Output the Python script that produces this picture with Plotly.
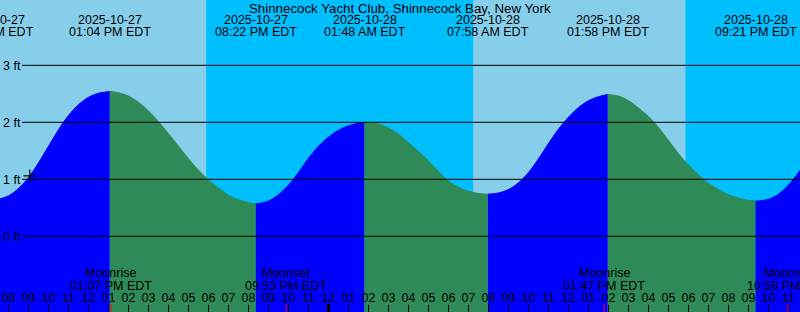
import plotly.graph_objects as go
from datetime import datetime, timedelta

TITLE = "Shinnecock Yacht Club, Shinnecock Bay, New York"
BASE = datetime(2025, 10, 27)

# water level samples: hours after 2025-10-27 00:00 EDT, feet
curve_hours = [7.5, 8.0, 8.5, 9.0, 9.5, 10.0, 10.5, 11.0, 11.5, 12.0, 12.5,
               13.5, 14.0, 14.5, 15.0, 15.5, 16.0, 16.5, 17.0, 17.5, 18.0, 18.5,
               19.0, 19.5, 20.0, 20.5, 21.0, 21.5, 22.0, 22.5, 23.0, 23.5, 24.0,
               24.5, 25.0, 25.5, 26.0, 26.5, 27.0, 27.5, 28.0, 28.5, 29.0, 29.5,
               30.0, 30.5, 31.0, 31.5, 32.5, 33.0, 33.5, 34.0, 34.5, 35.0,
               35.5, 36.0, 36.5, 37.0, 37.5, 38.5, 39.0, 39.5, 40.0, 40.5,
               41.0, 41.5, 42.0, 42.5, 43.0, 43.5, 44.0, 44.5, 45.0, 45.5, 46.0,
               46.5, 47.0, 47.5, 48.0]
curve_feet = [0.65, 0.71, 0.84, 1.03, 1.29, 1.58, 1.87, 2.12, 2.31, 2.44, 2.51,
              2.52, 2.46, 2.35, 2.20, 2.01, 1.80, 1.58, 1.36, 1.16, 0.99, 0.85,
              0.72, 0.64, 0.59, 0.575, 0.62, 0.73, 0.90, 1.12, 1.37, 1.58, 1.74,
              1.86, 1.94, 1.985, 1.995, 1.97, 1.90, 1.79, 1.64, 1.49, 1.32, 1.14,
              0.97, 0.86, 0.79, 0.75, 0.76, 0.82, 0.94, 1.12, 1.36, 1.63,
              1.88, 2.09, 2.26, 2.38, 2.45, 2.46, 2.38, 2.25, 2.10, 1.91,
              1.68, 1.45, 1.25, 1.08, 0.93, 0.82, 0.73, 0.67, 0.63, 0.62, 0.65,
              0.74, 0.90, 1.12, 1.38]

# tide events
tide_event_times = ["2025-10-27 07:13", "2025-10-27 13:04", "2025-10-27 20:22",
                    "2025-10-28 01:48", "2025-10-28 07:58", "2025-10-28 13:58",
                    "2025-10-28 21:21"]
tide_event_feet = [0.63, 2.54, 0.57, 2.00, 0.74, 2.49, 0.62]
tide_event_kind = ["low", "high", "low", "high", "low", "high", "low"]

# sun / moon
sunset_times = ["2025-10-27 17:53", "2025-10-28 17:51"]
sunrise_times = ["2025-10-28 07:14", "2025-10-29 07:15"]
moon_event_names = ["Moonrise", "Moonset", "Moonrise", "Moonset"]
moon_event_times = ["2025-10-27 13:07", "2025-10-27 21:53",
                    "2025-10-28 13:47", "2025-10-28 22:58"]

now_time = "2025-10-27 09:04"
now_feet = 1.06

level_ticks = [0, 1, 2, 3]
level_labels = ["0 ft", "1 ft", "2 ft", "3 ft"]

first_hour_tick = "2025-10-27 08:00"
hour_tick_count = 40

view_start = "2025-10-27 07:34:30"
view_end = "2025-10-28 23:34:30"

FONT = "Liberation Sans, Arial, sans-serif"
FS = 12.5
W, H = 800, 312
Y_MIN, Y_MAX = -1.328, 4.146

def parse(s):
    fmt = "%Y-%m-%d %H:%M:%S" if s.count(":") == 2 else "%Y-%m-%d %H:%M"
    return datetime.strptime(s, fmt)

T0, T1 = parse(view_start), parse(view_end)

def px_frac(d):
    # fraction of the time range, so labels past the edges can still be partly drawn
    return (d - T0) / (T1 - T0)

def py(px):
    return 1 - px / H

hour_ticks = [parse(first_hour_tick) + timedelta(hours=k) for k in range(hour_tick_count)]
hour_labels = [d.strftime("%I") for d in hour_ticks]

# merge samples and events
pts = [(BASE + timedelta(hours=h), v) for h, v in zip(curve_hours, curve_feet)]
ev = [(parse(t), v) for t, v in zip(tide_event_times, tide_event_feet)]
pts = sorted(pts + ev, key=lambda p: p[0])

fig = go.Figure()

bounds = [pts[0][0]] + [e[0] for e in ev] + [pts[-1][0]]
kinds_next = tide_event_kind + ["high"]
for i in range(len(bounds) - 1):
    a, b = bounds[i], bounds[i + 1]
    seg = [p for p in pts if a <= p[0] <= b]
    if len(seg) < 2:
        continue
    rising = kinds_next[i] == "high"
    col = "#0000FF" if rising else "#2E8B57"
    fig.add_trace(go.Scatter(x=[seg[0][0], seg[-1][0]], y=[-3, -3], mode="lines",
                             line=dict(width=0), hoverinfo="skip", showlegend=False))
    fig.add_trace(go.Scatter(x=[p[0] for p in seg], y=[p[1] for p in seg], mode="lines",
                             line=dict(width=1, color=col, shape="spline", smoothing=0.9),
                             fill="tonexty", fillcolor=col, hoverinfo="skip",
                             showlegend=False))

fig.add_trace(go.Scatter(x=[parse(now_time)], y=[now_feet], mode="markers",
                         marker=dict(symbol="cross-thin", size=9,
                                     line=dict(color="black", width=1.2)),
                         hoverinfo="skip", showlegend=False))

# invisible traces for the label axes
fig.add_trace(go.Scatter(x=[T0], y=[0], xaxis="x2", mode="markers",
                         marker=dict(opacity=0), hoverinfo="skip", showlegend=False))
fig.add_trace(go.Scatter(x=[T0], y=[0], yaxis="y2", mode="markers",
                         marker=dict(opacity=0), hoverinfo="skip", showlegend=False))

shapes = []
for s, r in zip(sunset_times, sunrise_times):
    shapes.append(dict(type="rect", xref="x", yref="paper", x0=parse(s), x1=parse(r),
                       y0=0, y1=1, fillcolor="#00BFFF", line=dict(width=0), layer="below"))
for lv in level_ticks:
    shapes.append(dict(type="line", xref="paper", yref="y", x0=22 / W, x1=1, y0=lv, y1=lv,
                       line=dict(color="black", width=1), layer="above"))
shapes.append(dict(type="line", xref="x", yref="paper", x0=BASE + timedelta(days=1),
                   x1=BASE + timedelta(days=1), y0=0, y1=8 / H,
                   line=dict(color="black", width=3), layer="above"))
for t in moon_event_times:
    shapes.append(dict(type="line", xref="x", yref="paper", x0=parse(t), x1=parse(t),
                       y0=0, y1=8 / H, line=dict(color="red", width=1), layer="above"))

ann = [dict(text=TITLE, x=0.5, xref="paper", y=py(8), yref="paper",
            showarrow=False, xanchor="center", yanchor="middle",
            font=dict(family=FONT, size=13.3, color="black"))]
for t in tide_event_times:
    d = parse(t)
    ann.append(dict(text=d.strftime("%Y-%m-%d"), x=px_frac(d), xref="paper", y=py(19.5),
                    yref="paper", showarrow=False, xanchor="center", yanchor="middle",
                    font=dict(family=FONT, size=FS, color="black")))
    ann.append(dict(text=d.strftime("%I:%M %p EDT"), x=px_frac(d), xref="paper", y=py(32),
                    yref="paper", showarrow=False, xanchor="center", yanchor="middle",
                    font=dict(family=FONT, size=FS, color="black")))
for n, t in zip(moon_event_names, moon_event_times):
    d = parse(t)
    ann.append(dict(text=n, x=d, xref="x", y=py(273), yref="paper",
                    showarrow=False, xanchor="center", yanchor="middle",
                    font=dict(family=FONT, size=FS, color="black")))
    ann.append(dict(text=d.strftime("%I:%M %p EDT"), x=d, xref="x", y=py(285.5), yref="paper",
                    showarrow=False, xanchor="center", yanchor="middle",
                    font=dict(family=FONT, size=FS, color="black")))

fig.update_layout(
    width=W, height=H, margin=dict(l=0, r=0, t=0, b=0),
    plot_bgcolor="#87CEEB", paper_bgcolor="#87CEEB",
    shapes=shapes, annotations=ann, showlegend=False,
    xaxis=dict(type="date", range=[view_start, view_end], showgrid=False, zeroline=False,
               showline=False, tickmode="array", tickvals=hour_ticks,
               ticks="inside", ticklen=7, tickwidth=1, tickcolor="black",
               showticklabels=False),
    xaxis2=dict(type="date", matches="x", overlaying="x", anchor="free",
                position=8 / H, side="top", showgrid=False, zeroline=False,
                showline=False, tickmode="array", tickvals=hour_ticks,
                ticktext=hour_labels, ticks="", ticklabelstandoff=0,
                ticklabeloverflow="allow",
                tickfont=dict(family=FONT, size=FS, color="black")),
    yaxis=dict(range=[Y_MIN, Y_MAX], showgrid=False, zeroline=False, showline=False,
               showticklabels=False, ticks=""),
    yaxis2=dict(matches="y", overlaying="y", anchor="free", position=0, side="right",
                showgrid=False, zeroline=False, showline=False,
                tickmode="array", tickvals=level_ticks, ticktext=level_labels, ticks="",
                ticklabelstandoff=2, ticklabeloverflow="allow",
                tickfont=dict(family=FONT, size=FS, color="black")),
)

fig.write_html("out.html")
